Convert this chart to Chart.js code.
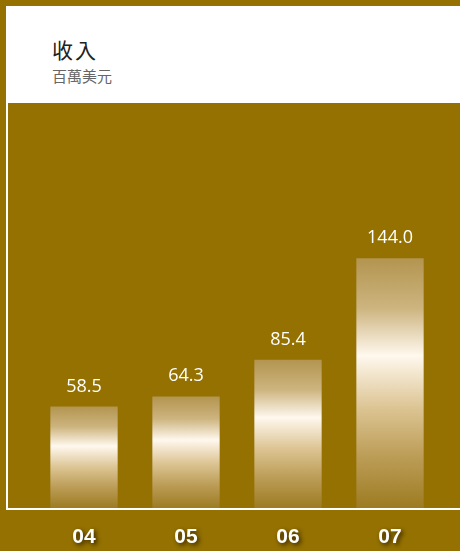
<!DOCTYPE html>
<html>
<head>
<meta charset="utf-8">
<script src="https://cdn.jsdelivr.net/npm/chart.js@4/dist/chart.umd.min.js"></script>
<style>
  html, body { margin: 0; padding: 0; }
  body { width: 460px; height: 551px; background: #947100; position: relative; overflow: hidden; }
  #header { position: absolute; left: 6px; top: 6px; width: 454px; height: 97px; background: #fff; }
  #title { position: absolute; left: 46px; top: 28px; font: 21px "Noto Sans CJK TC", sans-serif; color: #222; letter-spacing: 2px; }
  #subtitle { position: absolute; left: 46px; top: 59px; font: 15px "Noto Sans CJK TC", sans-serif; color: #666; }
  #frame { position: absolute; left: 6px; top: 103px; width: 454px; height: 405px; border-left: 2px solid #fff; border-bottom: 2px solid #fff; box-sizing: content-box; }
  #chart { position: absolute; left: 0; top: 0; }
</style>
</head>
<body>
<div id="header">
  <div id="title">收入</div>
  <div id="subtitle">百萬美元</div>
</div>
<div id="frame"></div>
<canvas id="chart" width="460" height="551"></canvas>
<script>
// 年份與收入（百萬美元）
const years = ['04', '05', '06', '07'];
const revenue = [58.5, 64.3, 85.4, 144.0];
const yMax = 230;

// 每根柱子的金色漸層，依柱子本身的高度計算
function barGradient(context) {
    const chart = context.chart;
    const y = chart.scales.y;
    if (!chart.chartArea || !y) return '#c9ae78';
    const v = revenue[context.dataIndex];
    const top = y.getPixelForValue(v);
    const bottom = y.getPixelForValue(0);
    const g = chart.ctx.createLinearGradient(0, top, 0, bottom);
    g.addColorStop(0, '#b39550');
    g.addColorStop(0.2, '#cdb47f');
    g.addColorStop(0.39, '#fff8ee');
    g.addColorStop(0.6, '#dcc493');
    g.addColorStop(0.8, '#bb9c55');
    g.addColorStop(1, '#9d7b22');
    return g;
}

// 柱子上方的數值
const valueLabels = {
    id: 'valueLabels',
    afterDatasetsDraw(chart) {
        const ctx = chart.ctx;
        const meta = chart.getDatasetMeta(0);
        ctx.save();
        ctx.fillStyle = '#ffffff';
        ctx.font = '18px "Open Sans", sans-serif';
        ctx.textAlign = 'center';
        ctx.textBaseline = 'alphabetic';
        meta.data.forEach((bar, i) => {
            ctx.fillText(revenue[i].toFixed(1), bar.x, bar.y - 15);
        });
        ctx.restore();
    }
};

// x 軸標籤加上陰影
const tickShadow = {
    id: 'tickShadow',
    afterLayout(chart) {
        const s = chart.scales.x;
        if (!s || s._shadowPatched) return;
        const orig = s.drawLabels;
        s.drawLabels = function (area) {
            const ctx = this.ctx;
            ctx.save();
            ctx.shadowColor = 'rgba(40, 25, 0, 0.9)';
            ctx.shadowBlur = 4;
            ctx.shadowOffsetX = 2;
            ctx.shadowOffsetY = 2;
            orig.call(this, area);
            ctx.restore();
        };
        s._shadowPatched = true;
    }
};

new Chart(document.getElementById('chart'), {
    type: 'bar',
    data: {
        labels: years,
        datasets: [{
            data: revenue,
            backgroundColor: barGradient,
            borderWidth: 0,
            categoryPercentage: 1,
            barPercentage: 0.66
        }]
    },
    options: {
        responsive: false,
        animation: false,
        layout: { padding: { left: 33, right: 19, top: 109, bottom: 0 } },
        scales: {
            y: { display: false, min: 0, max: yMax },
            x: {
                grid: { display: false, drawTicks: false },
                border: { display: false },
                afterFit(scale) { scale.height = 43; },
                ticks: {
                    color: '#ffffff',
                    padding: 17,
                    font: { family: '"Liberation Sans", Arial, sans-serif', size: 21, weight: 'bold' }
                }
            }
        },
        plugins: {
            legend: { display: false },
            tooltip: { enabled: false }
        }
    },
    plugins: [valueLabels, tickShadow]
});
</script>
</body>
</html>
